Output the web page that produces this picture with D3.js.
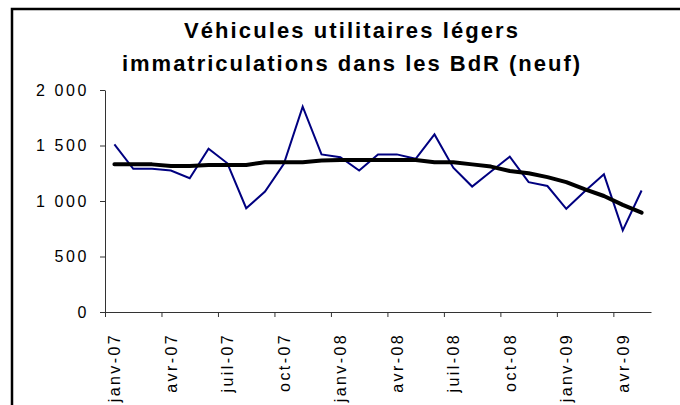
<!DOCTYPE html>
<html>
<head>
<meta charset="utf-8">
<script src="https://cdn.jsdelivr.net/npm/d3@7"></script>
<style>
  body { margin: 0; background: #fff; }
  svg { display: block; font-family: "Liberation Sans", Arial, sans-serif; }
</style>
</head>
<body>
<svg id="chart" width="680" height="405"></svg>
<script>
// mois (janv-07 -> mai-09)
const months = ["janv-07","févr-07","mars-07","avr-07","mai-07","juin-07","juil-07","août-07","sept-07",
  "oct-07","nov-07","déc-07","janv-08","févr-08","mars-08","avr-08","mai-08","juin-08","juil-08","août-08",
  "sept-08","oct-08","nov-08","déc-08","janv-09","févr-09","mars-09","avr-09","mai-09"];

// immatriculations mensuelles (courbe bleue)
const immat = [1510,1290,1290,1275,1205,1470,1340,935,1085,1335,1850,1420,1395,1275,1420,1420,1380,1600,
  1300,1130,1265,1400,1170,1135,930,1090,1240,735,1095];

// tendance (courbe noire)
const tendance = [1330,1330,1330,1315,1315,1325,1325,1325,1350,1350,1350,1365,1370,1370,1370,1370,1370,1350,
  1350,1330,1310,1270,1250,1215,1170,1105,1045,965,895];

const yTicks = [0, 500, 1000, 1500, 2000];
const titleLines = ["Véhicules utilitaires légers", "immatriculations dans les BdR (neuf)"];

const svg = d3.select("#chart");

// cadre
svg.append("rect")
    .attr("x", 12).attr("y", 9)
    .attr("width", 700).attr("height", 420)
    .attr("fill", "none")
    .attr("stroke", "#000")
    .attr("stroke-width", 2.5);

// titre
const titleLen = [334, 458];
svg.selectAll(".title")
    .data(titleLines)
    .enter()
    .append("text")
    .attr("class", "title")
    .attr("x", (d, i) => 351 - titleLen[i] / 2)
    .attr("y", (d, i) => i === 0 ? 38 : 71)
    .attr("font-size", 22)
    .attr("font-weight", "bold")
    .attr("textLength", (d, i) => titleLen[i])
    .attr("lengthAdjust", "spacing")
    .text(d => d);

const x = d3.scaleBand()
    .domain(months)
    .range([105, 651]);

const xLin = d3.scaleLinear()
    .domain([0, months.length])
    .range([105, 651]);

const y = d3.scaleLinear()
    .domain([0, 2000])
    .range([312, 90]);

const fr = d3.formatLocale({ decimal: ",", thousands: " ", grouping: [3], currency: ["", " €"] });

// axe Y
const yAxis = svg.append("g")
    .attr("transform", "translate(105,0)")
    .call(d3.axisLeft(y).tickValues(yTicks).tickSize(5).tickSizeOuter(0).tickFormat(fr.format(",")));
yAxis.select(".domain").attr("stroke", "#333");
yAxis.selectAll(".tick line").attr("stroke", "#333");
yAxis.selectAll(".tick text")
    .attr("font-family", "Liberation Sans, Arial, sans-serif")
    .attr("font-size", 16)
    .attr("letter-spacing", "2.6px")
    .attr("fill", "#000")
    .attr("x", -16);

// axe X
const xAxis = svg.append("g")
    .attr("transform", "translate(0,312)")
    .call(d3.axisBottom(xLin)
        .tickValues(d3.range(0, months.length, 3))
        .tickSize(5)
        .tickSizeOuter(0)
        .tickFormat(""));
xAxis.select(".domain").attr("stroke", "#333");
xAxis.selectAll(".tick line").attr("stroke", "#333");

svg.selectAll(".xlabel")
    .data(months.filter((d, i) => i % 3 === 0))
    .enter()
    .append("text")
    .attr("class", "xlabel")
    .attr("transform", d => `translate(${x(d) + x.bandwidth() / 2},333) rotate(-90)`)
    .attr("text-anchor", "end")
    .attr("dy", "0.36em")
    .attr("font-size", 16)
    .attr("letter-spacing", "2.4px")
    .text(d => d);

// courbes
const line = d3.line()
    .x((d, i) => x(months[i]) + x.bandwidth() / 2)
    .y(d => y(d));

svg.append("path")
    .datum(immat)
    .attr("d", line)
    .attr("fill", "none")
    .attr("stroke", "#000080")
    .attr("stroke-width", 2);

svg.append("path")
    .datum(tendance)
    .attr("d", line)
    .attr("fill", "none")
    .attr("stroke", "#000")
    .attr("stroke-width", 4)
    .attr("stroke-linejoin", "round")
    .attr("stroke-linecap", "round");
</script>
</body>
</html>
